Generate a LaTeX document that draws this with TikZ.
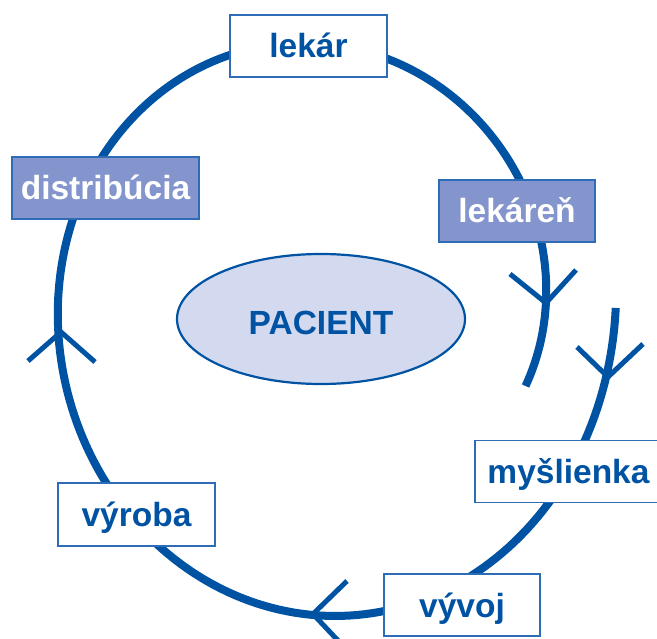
\documentclass[tikz,border=0pt]{standalone}
\usepackage{fontspec}
\setmainfont{Liberation Sans}
\usetikzlibrary{shapes.geometric}
\definecolor{mainblue}{RGB}{0,82,163}
\definecolor{boxfill}{RGB}{131,149,204}
\definecolor{ellfill}{RGB}{211,217,238}
\definecolor{boxline}{RGB}{46,108,184}
\tikzset{
  loopline/.style={draw=mainblue, line width=8pt, line cap=butt, line join=round},
  chevron/.style={draw=mainblue, line width=5pt, line cap=butt, line join=miter},
  lbl/.style={font=\fontsize{33.5}{40}\selectfont\bfseries, inner sep=0pt,
     text height=24pt, text depth=0pt, minimum height=62pt},
  whitebox/.style={lbl, rectangle, draw=boxline, line width=1.5pt, fill=white, text=mainblue},
  darkbox/.style={lbl, rectangle, draw=boxline, line width=1.5pt, fill=boxfill, text=white},
  patient/.style={ellipse, draw=mainblue, line width=2.2pt, fill=ellfill, text=mainblue,
     font=\fontsize{33.5}{40}\selectfont\bfseries, inner sep=0pt,
     text height=32pt, text depth=0pt, minimum width=288pt, minimum height=130pt}
}
\begin{document}
\begin{tikzpicture}[x=1pt,y=-1pt]
\useasboundingbox (0,0) rectangle (657,639);
\fill[white] (0,0) rectangle (657,639);
\begin{scope}
\clip (0,0) rectangle (657,639);
% spiral loop (clockwise on the page, radius shrinking slowly)
\draw[loopline] plot[domain=1:382, samples=240, variable=\t]
  ({319.5+(296.5-0.19444*\t)*cos(\t)}, {302+(341-0.3056*\t)*sin(\t)});
% arrow chevrons
\coordinate (c1) at (546,303); \coordinate (c1a) at (510,274); \coordinate (c1b) at (576,270);
\coordinate (c2) at (608,377); \coordinate (c2a) at (577,347); \coordinate (c2b) at (643,344);
\coordinate (c3) at (313,614); \coordinate (c3a) at (347,581); \coordinate (c3b) at (345,648);
\coordinate (c4) at (61,332);  \coordinate (c4a) at (28,361);  \coordinate (c4b) at (95,362);
\draw[chevron] (c1a) -- (c1) -- (c1b);
\draw[chevron] (c2a) -- (c2) -- (c2b);
\draw[chevron] (c3a) -- (c3) -- (c3b);
\draw[chevron] (c4a) -- (c4) -- (c4b);
% boxes
\node[whitebox, minimum width=157pt] (lekar) at (308.5,46) {lekár};
\node[darkbox, minimum width=156pt] (lekaren) at (517,211) {lekáreň};
\node[darkbox, minimum width=187pt] (distr) at (105.5,188) {distribúcia};
\node[whitebox, minimum width=187pt] (mysl) at (568.5,471.5) {myšlienka};
\node[whitebox, minimum width=156pt] (vyvoj) at (462,605) {vývoj};
\node[whitebox, minimum width=157pt, minimum height=63pt] (vyroba) at (136.5,514.5) {výroba};
% centre
\node[patient] (pac) at (321,319) {PACIENT};
\end{scope}
\end{tikzpicture}
\end{document}
